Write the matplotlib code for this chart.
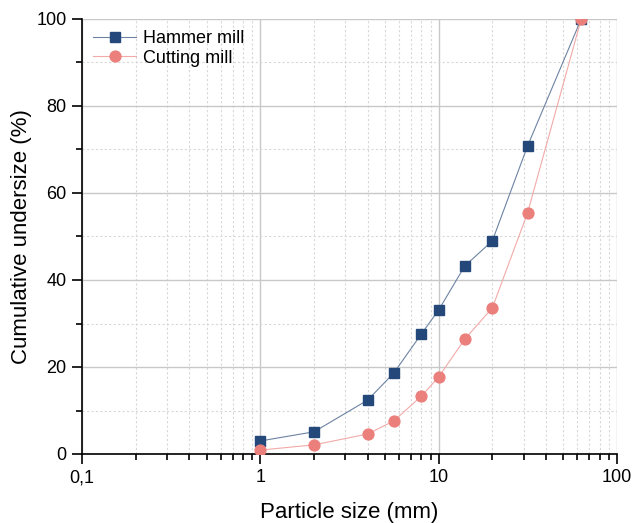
import matplotlib
matplotlib.use("Agg")
import matplotlib.pyplot as plt
from matplotlib.ticker import LogLocator, FixedLocator, FixedFormatter, MultipleLocator

plt.rcParams['font.family'] = ['Liberation Sans', 'DejaVu Sans']

# sieve sizes (mm) and cumulative undersize (%)
sizes = [1, 2, 4, 5.6, 8, 10, 14, 20, 31.5, 63]
hammer = [3.0, 5.1, 12.4, 18.6, 27.6, 33.1, 43.2, 49.0, 70.8, 100.0]
cutting = [0.9, 2.1, 4.6, 7.6, 13.3, 17.7, 26.4, 33.6, 55.4, 100.0]

x_ticks = [0.1, 1, 10, 100]
x_tick_labels = ["0,1", "1", "10", "100"]

navy = "#24487a"
salmon = "#eb7f7b"

fig = plt.figure(figsize=(6.34, 5.23), dpi=100)
ax = fig.add_axes([82 / 634, 1 - 454 / 523, 535 / 634, 435 / 523])

# thin, lighter connecting lines with solid markers
ax.plot(sizes, hammer, color="#6d83a3", lw=0.8, marker='s', ms=7,
        markerfacecolor=navy, markeredgecolor=navy, label="Hammer mill", zorder=3)
ax.plot(sizes, cutting, color="#f2aaa8", lw=0.8, marker='o', ms=7.8,
        markerfacecolor=salmon, markeredgecolor=salmon, label="Cutting mill", zorder=3)

ax.set_xscale('log')
ax.set_xlim(0.1, 100)
ax.set_ylim(0, 100)

ax.xaxis.set_major_locator(FixedLocator(x_ticks))
ax.xaxis.set_major_formatter(FixedFormatter(x_tick_labels))
ax.xaxis.set_minor_locator(LogLocator(base=10, subs=range(2, 10)))
ax.xaxis.set_minor_formatter(plt.NullFormatter())
ax.yaxis.set_major_locator(MultipleLocator(20))
ax.yaxis.set_minor_locator(MultipleLocator(10))

ax.grid(which='major', color='#c8c8c8', lw=1.0)
ax.grid(which='minor', color='#d8d8d8', lw=0.8, ls=(0, (2, 2)))
ax.set_axisbelow(True)

for s in ['top', 'right']:
    ax.spines[s].set_visible(False)
for s in ['left', 'bottom']:
    ax.spines[s].set_linewidth(1.2)

ax.tick_params(which='major', direction='out', length=7.5, width=1.2, labelsize=13, pad=3.5)
ax.tick_params(which='minor', direction='out', length=4, width=1.2)

ax.set_xlabel("Particle size (mm)", fontsize=16, labelpad=11)
ax.set_ylabel("Cumulative undersize (%)", fontsize=16, labelpad=3)

ax.legend(loc='upper left', frameon=False, fontsize=13, handlelength=2.4,
          borderaxespad=0.2, handletextpad=0.4, labelspacing=0.15,
          bbox_to_anchor=(0.0, 1.0))

fig.savefig("out.png", dpi=100)
